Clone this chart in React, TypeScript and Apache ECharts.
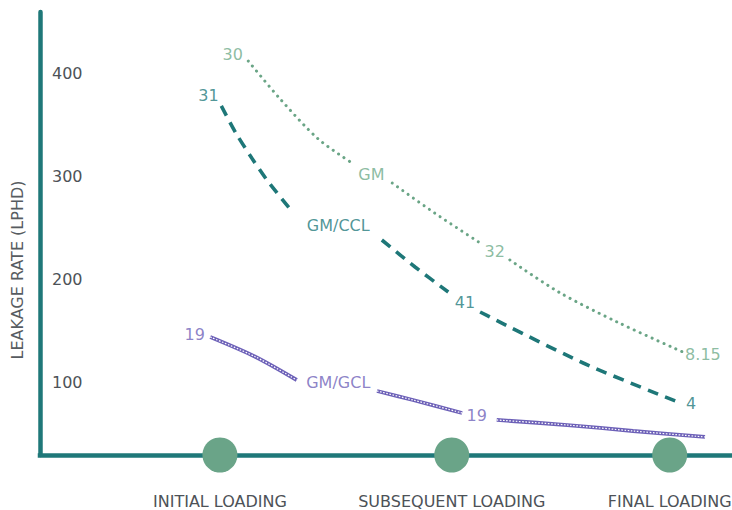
import React, { useEffect, useRef } from "react";
import * as echarts from "echarts";

// Axis domains
const X_MIN = 0;
const X_MAX = 100;
const Y_MIN = 30;
const Y_MAX = 460;
const Y_TICKS = [100, 200, 300, 400];

// Loading stages (x positions on the 0-100 progress scale)
const stageNames = ["INITIAL LOADING", "SUBSEQUENT LOADING", "FINAL LOADING"];
const stageX = [26.0, 59.5, 91.0];

// GM (dotted) – null separates drawn segments (gaps for labels)
const gmPoints: (number[] | null)[] = [
  [30.1, 412.4], [34.7, 375.6], [40.2, 336.8], [45.1, 313.4], null,
  [50.9, 294.0], [57.0, 265.0], [63.6, 235.8], null,
  [67.9, 219.3], [75.0, 188.0], [83.4, 159.1], [92.9, 130.0],
];
const gmLabelText = ["30", "GM", "32", "8.15"];
const gmLabelPos = [[27.85, 418.3], [47.9, 302.6], [65.7, 227.8], [95.8, 127.1]];

// GM/CCL (dashed)
const cclPoints: (number[] | null)[] = [
  [26.2, 368.8], [28.3, 342.6], [30.6, 318.3], [32.8, 296.9], [36.6, 264.9], null,
  [49.4, 238.7], [54.2, 212.5], [59.0, 188.2], null,
  [63.6, 168.8], [78.5, 119.3], [92.2, 81.4],
];
const cclLabelText = ["31", "GM/CCL", "41", "4"];
const cclLabelPos = [[24.35, 378.5], [43.1, 252.8], [61.4, 178.5], [94.1, 79.8]];

// GM/GCL (beaded)
const gclPoints: (number[] | null)[] = [
  [24.6, 144.5], [31.1, 125.4], [37.1, 102.8], null,
  [48.7, 92.1], [53.9, 83.4], [61.0, 70.8], null,
  [66.0, 64.0], [76.2, 59.1], [85.7, 53.3], [96.1, 47.5],
];
const gclLabelText = ["19", "GM/GCL", "19"];
const gclLabelPos = [[22.35, 147.3], [43.1, 100.4], [63.1, 68.8]];

const FONT = "DejaVu Sans";
const AXIS_COLOR = "#1f7879";
const TEXT_GRAY = "#4d5257";
const GM_COLOR = "#6aa586";
const GM_TEXT = "#6fab8a";
const CCL_COLOR = "#1e7778";
const CCL_TEXT = "#237a7c";
const GCL_COLOR = "#6d61b8";
const GCL_TEXT = "#6f63b9";
const CIRCLE_COLOR = "#6aa488";

function split(points: (number[] | null)[]): number[][][] {
  const segs: number[][][] = [];
  let cur: number[][] = [];
  for (const p of points) {
    if (p === null) {
      if (cur.length) segs.push(cur);
      cur = [];
    } else cur.push(p);
  }
  if (cur.length) segs.push(cur);
  return segs;
}

function labelSeries(texts: string[], pos: number[][], color: string) {
  return {
    type: "scatter",
    data: pos.map((p, i) => ({ value: p, name: texts[i] })),
    symbol: "circle",
    symbolSize: 1,
    itemStyle: { color: "rgba(0,0,0,0)" },
    label: {
      show: true,
      position: "inside",
      formatter: "{b}",
      color,
      fontSize: 16,
      fontFamily: FONT,
    },
    silent: true,
    clip: false,
    z: 6,
  };
}

export default function App() {
  const ref = useRef<HTMLDivElement>(null);

  useEffect(() => {
    const chart = echarts.init(ref.current!, null, { renderer: "svg" });

    const lineBase = {
      type: "line",
      smooth: 0.3,
      symbol: "none",
      silent: true,
    };

    const series: any[] = [];
    split(gmPoints).forEach((seg) =>
      series.push({
        ...lineBase,
        data: seg,
        lineStyle: { color: GM_COLOR, width: 3, type: [0.1, 6.4], cap: "round", opacity: 1 },
        z: 3,
      })
    );
    split(cclPoints).forEach((seg) =>
      series.push({
        ...lineBase,
        data: seg,
        lineStyle: { color: CCL_COLOR, width: 3.6, type: [11, 7.5], opacity: 1 },
        z: 3,
      })
    );
    split(gclPoints).forEach((seg) => {
      series.push({
        ...lineBase,
        data: seg,
        lineStyle: { color: GCL_COLOR, width: 3.8, opacity: 1 },
        z: 3,
      });
      series.push({
        ...lineBase,
        data: seg,
        lineStyle: { color: "#ffffff", width: 1.2, type: [1.6, 1.6], opacity: 1 },
        z: 4,
      });
    });

    series.push(labelSeries(gmLabelText, gmLabelPos, GM_TEXT));
    series.push(labelSeries(cclLabelText, cclLabelPos, CCL_TEXT));
    series.push(labelSeries(gclLabelText, gclLabelPos, GCL_TEXT));

    series.push({
      type: "scatter",
      data: stageX.map((x, i) => ({ value: [x, Y_MIN], name: stageNames[i] })),
      symbol: "circle",
      symbolSize: 35,
      itemStyle: { color: CIRCLE_COLOR, opacity: 1 },
      label: {
        show: true,
        position: "bottom",
        distance: 21,
        formatter: "{b}",
        color: TEXT_GRAY,
        fontSize: 16,
        fontFamily: FONT,
      },
      silent: true,
      clip: false,
      z: 5,
    });

    chart.setOption({
      animation: false,
      backgroundColor: "#ffffff",
      grid: { left: 40, right: 0, top: 12, bottom: 55, containLabel: false },
      xAxis: {
        type: "value",
        min: X_MIN,
        max: X_MAX,
        axisLine: { show: true, lineStyle: { color: AXIS_COLOR, width: 4.5, cap: "square" } },
        axisTick: { show: false },
        axisLabel: { show: false },
        splitLine: { show: false },
      },
      yAxis: {
        type: "value",
        min: Y_MIN,
        max: Y_MAX,
        axisLine: { show: true, lineStyle: { color: AXIS_COLOR, width: 4.5 } },
        axisTick: { show: false },
        splitLine: { show: false },
        axisLabel: {
          show: true,
          inside: true,
          margin: 12,
          customValues: Y_TICKS,
          color: TEXT_GRAY,
          fontSize: 16,
          fontFamily: FONT,
        },
      },
      graphic: [
        {
          type: "text",
          x: 17,
          y: 270,
          rotation: Math.PI / 2,
          style: {
            text: "LEAKAGE RATE (LPHD)",
            align: "center",
            verticalAlign: "middle",
            fill: "#575c61",
            fontSize: 16,
            fontFamily: FONT,
          },
        },
      ],
      series,
    });

    return () => chart.dispose();
  }, []);

  return (
    <div
      ref={ref}
      style={{ position: "fixed", left: 0, top: 0, width: 732, height: 510, background: "#fff" }}
    />
  );
}
